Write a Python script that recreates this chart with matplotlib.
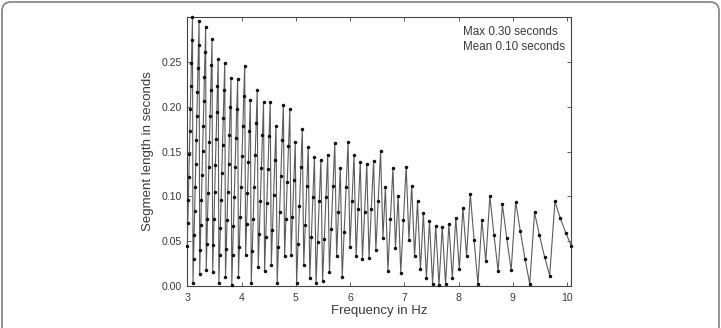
import matplotlib
matplotlib.use("Agg")
import matplotlib.pyplot as plt
from matplotlib.patches import FancyBboxPatch

plt.rcParams['font.family'] = ['Liberation Sans', 'DejaVu Sans']

# frequency of each segment (Hz)
freq_hz = [
    3.000, 3.009, 3.019, 3.028, 3.037, 3.047, 3.056, 3.066, 3.075, 3.085,
    3.095, 3.105, 3.115, 3.125, 3.135, 3.145, 3.155, 3.165, 3.175, 3.186,
    3.196, 3.207, 3.217, 3.228, 3.238, 3.249, 3.260, 3.271, 3.282, 3.293,
    3.304, 3.315, 3.327, 3.338, 3.349, 3.361, 3.372, 3.384, 3.396, 3.408,
    3.420, 3.432, 3.444, 3.456, 3.468, 3.480, 3.493, 3.505, 3.518, 3.531,
    3.543, 3.556, 3.569, 3.582, 3.596, 3.609, 3.622, 3.636, 3.649, 3.663,
    3.677, 3.690, 3.704, 3.719, 3.733, 3.747, 3.761, 3.776, 3.791, 3.805,
    3.820, 3.835, 3.850, 3.866, 3.881, 3.896, 3.912, 3.928, 3.943, 3.959,
    3.976, 3.992, 4.008, 4.025, 4.041, 4.058, 4.075, 4.092, 4.109, 4.126,
    4.144, 4.162, 4.179, 4.197, 4.215, 4.234, 4.252, 4.271, 4.289, 4.308,
    4.327, 4.347, 4.366, 4.386, 4.405, 4.425, 4.445, 4.466, 4.486, 4.507,
    4.528, 4.549, 4.570, 4.591, 4.613, 4.635, 4.657, 4.679, 4.702, 4.724,
    4.747, 4.771, 4.794, 4.818, 4.841, 4.865, 4.890, 4.914, 4.939, 4.964,
    4.990, 5.015, 5.041, 5.067, 5.093, 5.120, 5.147, 5.174, 5.202, 5.230,
    5.258, 5.286, 5.315, 5.344, 5.373, 5.403, 5.433, 5.463, 5.494, 5.525,
    5.556, 5.588, 5.620, 5.653, 5.686, 5.719, 5.753, 5.787, 5.821, 5.856,
    5.891, 5.927, 5.963, 5.999, 6.037, 6.074, 6.112, 6.150, 6.189, 6.229,
    6.269, 6.309, 6.350, 6.392, 6.434, 6.476, 6.519, 6.563, 6.607, 6.652,
    6.698, 6.744, 6.791, 6.838, 6.887, 6.935, 6.985, 7.035, 7.086, 7.138,
    7.190, 7.244, 7.298, 7.352, 7.408, 7.465, 7.522, 7.580, 7.640, 7.700,
    7.761, 7.823, 7.886, 7.950, 8.015, 8.081, 8.149, 8.217, 8.287, 8.358,
    8.430, 8.503, 8.578, 8.653, 8.731, 8.809, 8.889, 8.971, 9.054, 9.139,
    9.225, 9.313, 9.402, 9.493, 9.586, 9.681, 9.778, 9.877, 9.978, 10.080,
]

# segment length (s) at each frequency
seg_len_s = [
    0.0447, 0.0703, 0.0959, 0.1214, 0.1470, 0.1725, 0.1981, 0.2236, 0.2492, 0.2748,
    0.3003, 0.0037, 0.0303, 0.0569, 0.0835, 0.1101, 0.1366, 0.1632, 0.1898, 0.2164,
    0.2430, 0.2695, 0.2961, 0.0130, 0.0406, 0.0682, 0.0958, 0.1234, 0.1510, 0.1786,
    0.2062, 0.2338, 0.2614, 0.2890, 0.0180, 0.0467, 0.0753, 0.1039, 0.1325, 0.1612,
    0.1898, 0.2184, 0.2471, 0.2757, 0.0160, 0.0457, 0.0753, 0.1050, 0.1346, 0.1643,
    0.1939, 0.2236, 0.2532, 0.0037, 0.0344, 0.0650, 0.0957, 0.1264, 0.1570, 0.1877,
    0.2184, 0.2491, 0.0098, 0.0415, 0.0732, 0.1049, 0.1366, 0.1683, 0.2000, 0.2317,
    0.0016, 0.0344, 0.0671, 0.0998, 0.1325, 0.1652, 0.1979, 0.2307, 0.0098, 0.0435,
    0.0773, 0.1110, 0.1447, 0.1785, 0.2122, 0.2460, 0.0341, 0.0688, 0.1036, 0.1384,
    0.1731, 0.2079, 0.0036, 0.0394, 0.0751, 0.1109, 0.1467, 0.1825, 0.2183, 0.0217,
    0.0585, 0.0953, 0.1321, 0.1689, 0.2057, 0.0166, 0.0545, 0.0923, 0.1301, 0.1680,
    0.2058, 0.0237, 0.0626, 0.1014, 0.1403, 0.1791, 0.0032, 0.0431, 0.0829, 0.1228,
    0.1627, 0.2026, 0.0339, 0.0748, 0.1157, 0.1566, 0.1975, 0.0348, 0.0767, 0.1186,
    0.1605, 0.0034, 0.0464, 0.0893, 0.1323, 0.1752, 0.0237, 0.0677, 0.1117, 0.1556,
    0.0094, 0.0544, 0.0994, 0.1444, 0.0032, 0.0492, 0.0952, 0.1412, 0.0052, 0.0522,
    0.0992, 0.1463, 0.0154, 0.0634, 0.1115, 0.1595, 0.0339, 0.0829, 0.1320, 0.0100,
    0.0601, 0.1102, 0.1603, 0.0440, 0.0951, 0.1462, 0.0339, 0.0860, 0.1382, 0.0298,
    0.0829, 0.1361, 0.0314, 0.0856, 0.1398, 0.0398, 0.0950, 0.1502, 0.0540, 0.1102,
    0.0172, 0.0744, 0.1317, 0.0425, 0.1008, 0.0148, 0.0741, 0.1334, 0.0519, 0.1122,
    0.0331, 0.0945, 0.0187, 0.0811, 0.0089, 0.0723, 0.0026, 0.0670, 0.0007, 0.0661,
    0.0027, 0.0691, 0.0088, 0.0762, 0.0185, 0.0870, 0.0334, 0.1029, 0.0515, 0.0021,
    0.0737, 0.0276, 0.1002, 0.0574, 0.0164, 0.0911, 0.0537, 0.0176, 0.0943, 0.0614,
    0.0307, 0.0024, 0.0821, 0.0565, 0.0327, 0.0116, 0.0944, 0.0755, 0.0594, 0.0447,
]

x_ticks = [3, 4, 5, 6, 7, 8, 9, 10]
y_ticks = [0.00, 0.05, 0.10, 0.15, 0.20, 0.25]
note_lines = ['Max 0.30 seconds', 'Mean 0.10 seconds']

txt = '#3a3a3a'

fig = plt.figure(figsize=(7.21, 3.28), dpi=100)

# rounded frame around the whole panel
frame = FancyBboxPatch((0.02, -0.3), 7.17, 3.56,
                       boxstyle='round,pad=0,rounding_size=0.09',
                       transform=fig.dpi_scale_trans,
                       facecolor='none', edgecolor='#8a8a8a', linewidth=1.3)
fig.patches.append(frame)

ax = fig.add_axes([0.2598, 0.128, 0.5326, 0.8202])
ax.plot(freq_hz, seg_len_s, color='#5c5c5c', linewidth=0.8,
        marker='o', markersize=1.5, markerfacecolor='#111111',
        markeredgecolor='#111111', clip_on=False, zorder=3)

ax.set_xlim(3, 10.08)
ax.set_ylim(0, 0.3003)
ax.set_xticks(x_ticks)
ax.set_yticks(y_ticks)
ax.set_xticklabels([str(v) for v in x_ticks])
ax.set_yticklabels(['%.2f' % v for v in y_ticks])

ax.tick_params(direction='in', top=True, right=True, length=3, width=0.6,
               colors='#444444', labelsize=7.6, labelcolor=txt)
ax.tick_params(axis='x', pad=5)
ax.tick_params(axis='y', pad=4)
for s in ax.spines.values():
    s.set_color('#444444')
    s.set_linewidth(0.8)

ax.set_xlabel('Frequency in Hz', fontsize=9.5, color=txt, labelpad=1.5)
ax.set_ylabel('Segment length in seconds', fontsize=9.5, color=txt, labelpad=5)

ax.text(0.717, 0.968, '\n'.join(note_lines), transform=ax.transAxes,
        ha='left', va='top', fontsize=8.4, color=txt, linespacing=1.35)

fig.savefig('out.png', dpi=100)
